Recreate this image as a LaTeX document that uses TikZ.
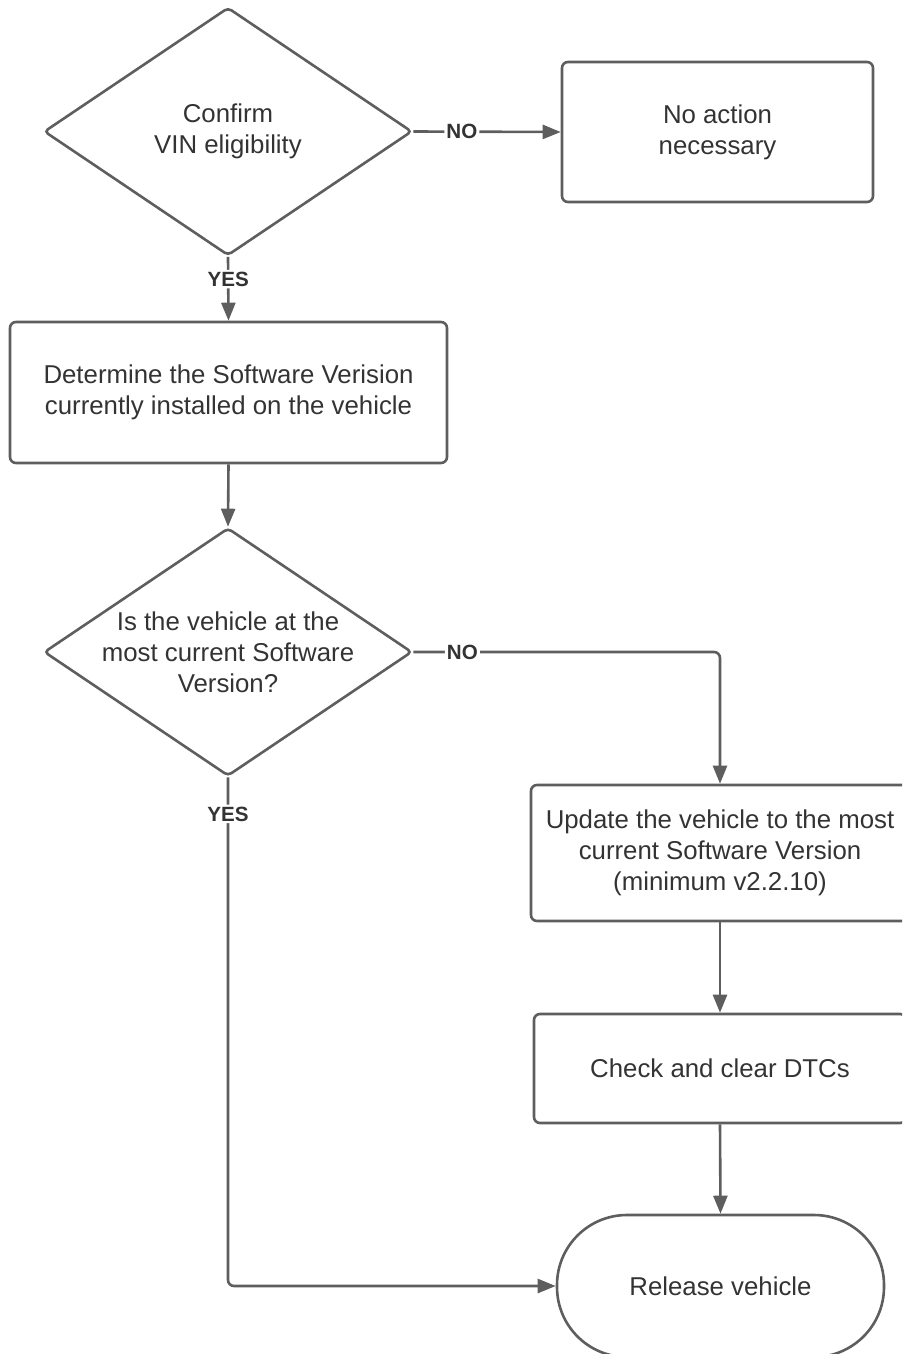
\documentclass[tikz,border=0pt]{standalone}
\usepackage{fontspec}
\setmainfont{Liberation Sans}
\usetikzlibrary{shapes.geometric,arrows.meta}
\definecolor{linegray}{HTML}{5E5E5E}
\definecolor{textgray}{HTML}{333333}

\begin{document}
\begin{tikzpicture}[x=0.5pt, y=-0.5pt,
  every node/.style={text=textgray, font=\fontsize{12.9}{15.5}\selectfont, align=center},
  decision/.style={diamond, draw=linegray, line width=1.3pt, rounded corners=2pt,
    inner sep=0pt, minimum width=184pt, minimum height=124pt},
  process/.style={rectangle, draw=linegray, line width=1.3pt, rounded corners=3pt},
  terminal/.style={rectangle, draw=linegray, line width=1.3pt, rounded corners=35pt,
    minimum width=163.5pt, minimum height=71pt},
  answer/.style={fill=white, font=\fontsize{10.3}{11}\selectfont\bfseries, inner sep=1pt},
  flow/.style={draw=linegray, line width=1.3pt, rounded corners=3pt,
    -{Triangle[length=9pt,width=7pt]}}]
\useasboundingbox (0,0) rectangle (902,1354);
\clip (0,0) rectangle (902,1354);
\node[decision, label={center:Confirm\\VIN eligibility}] (vin) at (228,131.5) {};
\node[process, minimum width=155.5pt, minimum height=70pt] (noact) at (717.5,132) {No action\\necessary};
\node[process, minimum width=218.5pt, minimum height=70.5pt] (det) at (228.5,392.5)
  {Determine the Software Verision\\currently installed on the vehicle};
\node[decision, label={center:Is the vehicle at the\\most current Software\\Version?}] (ver) at (228,652) {};
\node[process, minimum width=189pt, minimum height=68pt] (upd) at (720,853)
  {Update the vehicle to the most\\current Software Version\\(minimum v2.2.10)};
\node[process, minimum width=186pt, minimum height=54.5pt] (dtc) at (720,1068.5) {Check and clear DTCs};
\node[terminal] (rel) at (720.5,1286) {Release vehicle};
\draw[flow] (vin.east) -- node[answer, pos=0.33] {NO} (noact.west);
\draw[flow] (vin.south) -- node[answer, pos=0.35] {YES} (det.north);
\draw[flow] (det.south) -- (ver.north);
\draw[flow] (ver.east) -| node[answer, pos=0.08] {NO} (upd.north);
\draw[flow] (ver.south) |- node[answer, pos=0.036] {YES} (rel.west);
\draw[flow] (upd.south) -- (dtc.north);
\draw[flow] (dtc.south) -- (rel.north);
\end{tikzpicture}
\end{document}
